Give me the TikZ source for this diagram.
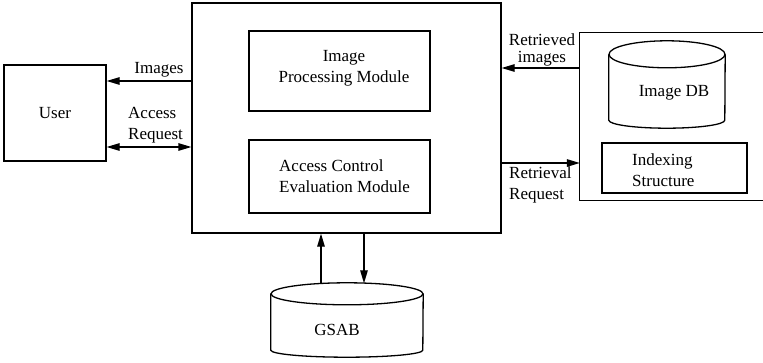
\documentclass[tikz,border=0pt]{standalone}
\usepackage{fontspec}
\setmainfont{Liberation Serif}
\usetikzlibrary{arrows.meta,calc}
\begin{document}
\begin{tikzpicture}[x=1pt,y=1pt,
  box/.style={draw,line width=1.3pt,inner sep=0pt},
  lbl/.style={inner sep=0pt,font=\fontsize{17}{21}\selectfont},
  conn/.style={line width=1.3pt,-{Triangle[length=13pt,width=7.5pt]}},
  conn2/.style={line width=1.3pt,{Triangle[length=13pt,width=7.5pt]}-{Triangle[length=13pt,width=7.5pt]}},
  cyl/.style={inner sep=0pt}]
\useasboundingbox (0,0) rectangle (763,362);
% boxes
\node[box,minimum width=309,minimum height=230] (main) at (346.5,244) {};
\node[box,minimum width=102,minimum height=96] (user) at (55,249) {};
\node[lbl] at (user.center) {User};
\node[box,minimum width=181,minimum height=80] (ipm) at (339.5,291) {};
\node[lbl,align=center] at (344,294) {Image\\Processing Module};
\node[box,minimum width=181,minimum height=73] (acm) at (339.5,185.5) {};
\node[lbl,align=left,anchor=west] at (279,186) {Access Control\\Evaluation Module};
% repository box (open at right edge)
\node[inner sep=0pt,minimum width=200,minimum height=167] (repo) at (680,245.5) {};
\draw[line width=1.3pt] (repo.north east) -- (repo.north west) -- (repo.south west) -- (repo.south east);
\node[box,minimum width=145,minimum height=50] (idx) at (674.5,194) {};
\node[lbl,align=left,anchor=west] at (632,192) {Indexing\\Structure};
% Image DB cylinder
\node[cyl,minimum width=116,minimum height=87] (imgdb) at (667,277.5) {};
\draw[line width=1.3pt] ($(imgdb.north)+(0,-13.5)$) ellipse [x radius=58,y radius=13.5];
\draw[line width=1.3pt] ($(imgdb.north west)+(0,-13.5)$) -- ($(imgdb.south west)+(0,8)$)
  arc[start angle=180,end angle=360,x radius=58,y radius=8] -- ($(imgdb.north east)+(0,-13.5)$);
\node[lbl] at (674,269) {Image DB};
% GSAB cylinder
\node[cyl,minimum width=152,minimum height=74] (gsab) at (347,42) {};
\draw[line width=1.3pt] ($(gsab.north)+(0,-11)$) ellipse [x radius=76,y radius=11];
\draw[line width=1.3pt] ($(gsab.north west)+(0,-11)$) -- ($(gsab.south west)+(0,7)$)
  arc[start angle=180,end angle=360,x radius=76,y radius=7] -- ($(gsab.north east)+(0,-11)$);
\node[lbl] at (337,32) {GSAB};
% connectors
\coordinate (yimg) at (0,281);
\coordinate (yacc) at (0,215);
\coordinate (yret) at (0,294);
\coordinate (yreq) at (0,199);
\coordinate (xup) at (321,78.3);
\coordinate (xdn) at (364,78.7);
\draw[conn] (main.west |- yimg) -- (user.east |- yimg);
\draw[conn2] (user.east |- yacc) -- (main.west |- yacc);
\draw[conn] (repo.west |- yret) -- (main.east |- yret);
\draw[conn] (main.east |- yreq) -- (repo.west |- yreq);
\draw[conn] (xup) -- (xup |- main.south);
\draw[conn] (xdn |- main.south) -- (xdn);
% connector labels
\node[lbl,anchor=base] at (159,288) {Images};
\node[lbl,align=left,anchor=west] at (128,237) {Access\\Request};
\node[lbl,align=center,font=\fontsize{17}{16.5}\selectfont] at (542,312) {Retrieved\\images};
\node[lbl,align=left,anchor=west] at (509,177.5) {Retrieval\\Request};
\end{tikzpicture}
\end{document}
